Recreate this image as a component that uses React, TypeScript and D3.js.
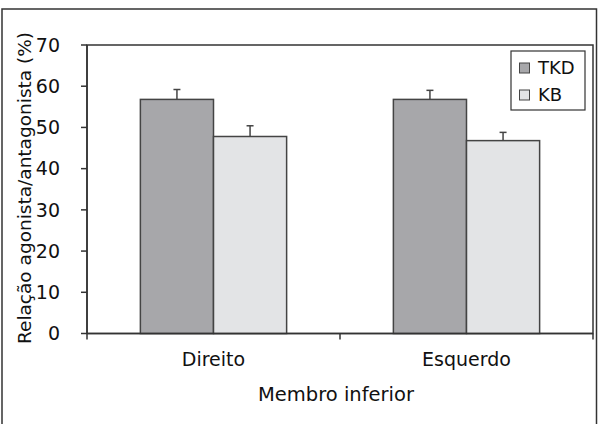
import React from "react";
import * as d3 from "d3";

const categories = ["Direito", "Esquerdo"];
const seriesNames = ["TKD", "KB"];
const tkdValues = [56.8, 56.8];
const kbValues = [47.8, 46.8];
const tkdErrors = [2.4, 2.2];
const kbErrors = [2.6, 2.0];
const yTicks = [0, 10, 20, 30, 40, 50, 60, 70];
const colors = ["#a7a7aa", "#e3e4e6"];

export default function App() {
  const W = 598, H = 424;
  const left = 87, right = 593, top = 45, bottom = 333.5;
  const font = "'DejaVu Sans', sans-serif";
  const x0 = d3.scaleBand<string>().domain(categories).range([left, right]).paddingInner(0).paddingOuter(0);
  const inner = d3.scaleBand<string>().domain(seriesNames).range([0, x0.bandwidth()]).paddingInner(0).paddingOuter(0.73);
  const y = d3.scaleLinear().domain([0, 70]).range([bottom, top]);
  const values = [tkdValues, kbValues];
  const errors = [tkdErrors, kbErrors];
  const stroke = "#444";
  return (
    <svg width={W} height={H} style={{ position: "absolute", left: 0, top: 0, background: "#fff" }}>
      <rect x={2} y={9} width={594.5} height={430} fill="#fff" stroke="#333" strokeWidth={1.5} />
      <rect x={left} y={top} width={right - left} height={bottom - top} fill="none" stroke="#333" strokeWidth={1.5} />
      {categories.map((c, ci) =>
        seriesNames.map((s, si) => {
          const bx = (x0(c) as number) + (inner(s) as number);
          const bw = inner.bandwidth();
          const v = values[si][ci];
          const e = errors[si][ci];
          const cx = bx + bw / 2;
          return (
            <g key={c + s}>
              <rect x={bx} y={y(v)} width={bw} height={bottom - y(v)} fill={colors[si]} stroke={stroke} strokeWidth={1.5} />
              <line x1={cx} x2={cx} y1={y(v)} y2={y(v + e)} stroke={stroke} strokeWidth={1.5} />
              <line x1={cx - 3.5} x2={cx + 3.5} y1={y(v + e)} y2={y(v + e)} stroke={stroke} strokeWidth={1.5} />
            </g>
          );
        })
      )}
      <line x1={left} x2={right} y1={bottom} y2={bottom} stroke="#333" strokeWidth={1.5} />
      <line x1={left} x2={left} y1={top} y2={bottom} stroke="#333" strokeWidth={1.5} />
      {yTicks.map((t) => (
        <g key={t}>
          <line x1={left - 6} x2={left} y1={y(t)} y2={y(t)} stroke="#333" strokeWidth={1.5} />
          <text x={left - 27} y={y(t)} dy="0.36em" textAnchor="end" fontFamily={font} fontSize={19} fill="#111">{t}</text>
        </g>
      ))}
      {[left, left + x0.bandwidth(), right].map((tx, i) => (
        <line key={i} x1={tx} x2={tx} y1={bottom} y2={bottom + 6} stroke="#333" strokeWidth={1.5} />
      ))}
      {categories.map((c) => (
        <text key={c} x={(x0(c) as number) + x0.bandwidth() / 2} y={366} textAnchor="middle" fontFamily={font} fontSize={19} fill="#111">{c}</text>
      ))}
      <text x={336} y={401} textAnchor="middle" fontFamily={font} fontSize={19.5} fill="#111">Membro inferior</text>
      <text transform={`translate(31,188) rotate(-90)`} textAnchor="middle" fontFamily={font} fontSize={18.5} fill="#111">Relação agonista/antagonista (%)</text>
      <rect x={511} y={51} width={74} height={59} fill="#fff" stroke="#333" strokeWidth={1.2} />
      {seriesNames.map((s, i) => (
        <g key={s}>
          <rect x={519.5} y={63 + i * 27} width={10} height={10} fill={colors[i]} stroke={stroke} strokeWidth={1} />
          <text x={538} y={68 + i * 27} dy="0.36em" fontFamily={font} fontSize={18} fill="#111">{s}</text>
        </g>
      ))}
    </svg>
  );
}
